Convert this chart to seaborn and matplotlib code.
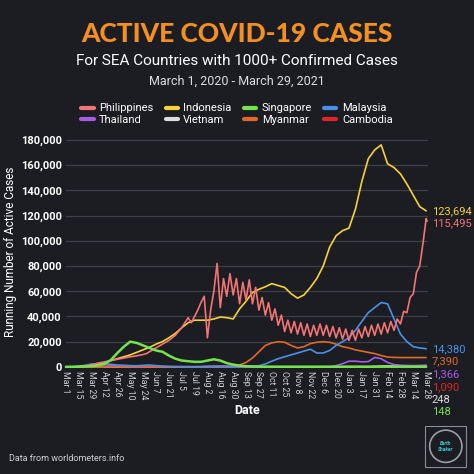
import pandas as pd
import matplotlib
matplotlib.use("Agg")
import matplotlib.pyplot as plt
import seaborn as sns
from matplotlib.lines import Line2D
from matplotlib.patches import Rectangle, Circle

# weekly values (thousands of active cases), Mar 1 2020 .. Mar 28 2021
indonesia = [0, 0.005, 0.1, 0.5, 1.1, 2.0, 3.3, 5.0, 6.5, 8.0, 9.5, 11.5, 13.5, 15.5,
             18.0, 20.0, 23.0, 26.5, 31.0, 35.0, 37.0, 37.0, 37.0, 38.0, 39.5, 39.0, 38.0,
             46.0, 52.0, 59.0, 61.5, 63.5, 66.0, 64.5, 63.0, 58.0, 54.5, 57.0, 63.0, 70.0,
             80.0, 95.0, 104.0, 108.0, 110.0, 125.0, 147.0, 165.0, 172.0, 176.0, 161.0,
             158.0, 153.0, 145.0, 136.0, 127.0, 123.694]
singapore = [0.05, 0.08, 0.15, 0.3, 0.6, 1.1, 2.3, 5.5, 11.0, 16.0, 20.0, 19.0, 17.0, 15.0,
             13.0, 12.0, 9.0, 6.5, 5.0, 4.5, 4.0, 4.0, 5.0, 6.0, 5.0, 3.0, 1.8, 1.0, 0.5,
             0.3, 0.2, 0.15, 0.12, 0.1, 0.1, 0.1, 0.1, 0.1, 0.1, 0.1, 0.1, 0.1, 0.1, 0.12,
             0.15, 0.15, 0.15, 0.15, 0.15, 0.15, 0.15, 0.15, 0.15, 0.15, 0.15, 0.15, 0.148]
malaysia = [0.02, 0.1, 0.5, 1.3, 2.2, 2.7, 2.6, 2.0, 1.5, 1.3, 1.0, 0.9, 1.2, 1.5, 1.0,
            0.7, 0.4, 0.3, 0.2, 0.2, 0.15, 0.15, 0.2, 0.2, 0.2, 0.2, 0.2, 0.3, 0.4, 0.6,
            0.9, 2.3, 4.5, 6.5, 8.0, 9.5, 11.0, 12.5, 14.0, 11.0, 11.0, 13.0, 17.0, 20.0,
            23.0, 29.0, 36.0, 43.0, 47.0, 51.0, 50.0, 38.0, 26.0, 20.0, 16.0, 15.0, 14.38]
thailand = [0.02, 0.05, 0.1, 0.6, 1.3, 1.8, 1.8, 1.3, 0.6, 0.3, 0.15, 0.1, 0.1, 0.1, 0.1,
            0.1, 0.1, 0.1, 0.1, 0.1, 0.1, 0.1, 0.1, 0.1, 0.1, 0.1, 0.1, 0.1, 0.1, 0.1,
            0.1, 0.1, 0.1, 0.1, 0.1, 0.1, 0.1, 0.1, 0.1, 0.1, 0.1, 0.15, 1.0, 2.5, 4.5,
            4.5, 4.0, 4.2, 7.5, 6.5, 3.5, 1.8, 1.3, 1.1, 1.0, 1.1, 1.366]
vietnam = [0.01, 0.02, 0.05, 0.1, 0.15, 0.2, 0.15, 0.1, 0.08, 0.07, 0.06, 0.06, 0.06,
           0.06, 0.05, 0.05, 0.05, 0.05, 0.05, 0.05, 0.05, 0.1, 0.3, 0.35, 0.4, 0.35, 0.3,
           0.25, 0.2, 0.15, 0.12, 0.1, 0.1, 0.1, 0.1, 0.1, 0.1, 0.1, 0.1, 0.1, 0.1, 0.1,
           0.1, 0.1, 0.1, 0.1, 0.1, 0.12, 0.3, 0.6, 0.7, 0.6, 0.5, 0.4, 0.3, 0.25, 0.248]
myanmar = [0, 0, 0, 0.01, 0.05, 0.1, 0.2, 0.15, 0.1, 0.1, 0.05, 0.05, 0.05, 0.05, 0.05,
           0.05, 0.05, 0.05, 0.05, 0.05, 0.05, 0.05, 0.05, 0.05, 0.05, 0.1, 0.5, 1.5, 3.5,
           7.0, 12.0, 17.0, 19.0, 20.0, 19.5, 17.0, 15.0, 16.0, 18.5, 19.5, 20.0, 19.5,
           18.0, 16.0, 15.0, 13.5, 12.5, 11.5, 10.5, 9.0, 7.8, 7.5, 7.4, 7.4, 7.4, 7.4, 7.39]
cambodia = [0, 0, 0.01, 0.05, 0.1, 0.1, 0.05, 0.03, 0.02, 0.01, 0.01, 0.01, 0.02, 0.02,
            0.03, 0.03, 0.03, 0.04, 0.04, 0.05, 0.05, 0.05, 0.05, 0.05, 0.05, 0.05, 0.05,
            0.05, 0.05, 0.05, 0.05, 0.05, 0.05, 0.05, 0.05, 0.05, 0.05, 0.05, 0.05, 0.05,
            0.05, 0.05, 0.05, 0.05, 0.05, 0.05, 0.05, 0.05, 0.05, 0.05, 0.05, 0.1, 0.3,
            0.5, 0.7, 0.9, 1.09]

# Philippines, twice a week (shows the weekly saw-tooth), plus Mar 29 2021
philippines = [0, 0, 0.01, 0.1, 0.2, 0.5, 0.8, 1.2, 1.8, 2.2, 3.0, 3.5, 4.0, 4.5, 5.0,
               5.5, 6.0, 6.5, 7.0, 7.5, 8.0, 8.3, 8.8, 9.3, 9.8, 10.5, 12.0, 13.5, 15.0,
               16.5, 18.0, 19.5, 21.0, 23.0, 25.0, 28.0, 31.0, 35.0, 39.0, 35.0, 40.0,
               45.0, 51.0, 56.0, 23.0, 45.0, 60.0, 82.0, 47.0, 70.0, 56.0, 74.0, 57.0,
               70.0, 50.0, 67.0, 53.0, 69.0, 50.0, 63.0, 45.0, 55.0, 41.0, 51.0, 37.0,
               46.0, 33.0, 41.0, 28.0, 37.0, 27.0, 36.0, 26.0, 35.0, 25.0, 34.0, 24.0,
               33.0, 25.0, 34.0, 25.0, 33.0, 24.0, 32.0, 23.0, 31.0, 22.0, 30.0, 21.0,
               29.0, 21.0, 30.0, 23.0, 32.0, 24.0, 33.0, 25.0, 34.0, 26.0, 35.0, 27.0,
               36.0, 29.0, 38.0, 34.0, 44.0, 43.0, 55.0, 58.0, 75.0, 80.0, 98.0, 117.6,
               115.495]

countries = ["Philippines", "Indonesia", "Singapore", "Malaysia",
             "Thailand", "Vietnam", "Myanmar", "Cambodia"]
colors = ["#f27474", "#f6d13a", "#74e44c", "#4a90e6",
          "#a85ce6", "#dcdcdc", "#e0692a", "#e02626"]
final_labels = ["115,495", "123,694", "148", "14,380", "1,366", "248", "7,390", "1,090"]

weeks = pd.date_range("2020-03-01", "2021-03-28", freq="7D")
half_weeks = pd.date_range("2020-03-01", periods=113, freq="84h").append(
    pd.DatetimeIndex(["2021-03-29"]))

series = {"Indonesia": indonesia, "Singapore": singapore, "Malaysia": malaysia,
          "Thailand": thailand, "Vietnam": vietnam, "Myanmar": myanmar,
          "Cambodia": cambodia}
frames = [pd.DataFrame({"date": weeks, "cases": [v * 1000 for v in vals], "country": c})
          for c, vals in series.items()]
frames.append(pd.DataFrame({"date": half_weeks, "cases": [v * 1000 for v in philippines],
                            "country": "Philippines"}))
df = pd.concat(frames, ignore_index=True)

bg = "#1b1d23"
sns.set_style("dark")
plt.rcParams["font.family"] = ["Roboto", "DejaVu Sans"]

fig = plt.figure(figsize=(4.74, 4.74), dpi=100, facecolor=bg)
ax = fig.add_axes([0.139, 0.226, 0.764, 0.487])
ax.set_facecolor(bg)

pal = dict(zip(countries, colors))
draw_order = ["Cambodia", "Vietnam", "Thailand", "Myanmar", "Malaysia",
              "Indonesia", "Philippines", "Singapore"]
for c in draw_order:
    sub = df[df["country"] == c]
    sns.lineplot(data=sub, x="date", y="cases", color=pal[c], ax=ax, estimator=None,
                 lw=1.8 if c == "Singapore" else 1.2, clip_on=False, legend=False)

ax.set_ylim(0, 183000)
ax.set_xlim(pd.Timestamp("2020-03-01"), pd.Timestamp("2021-03-30"))
yt = list(range(0, 180001, 20000))
ax.set_yticks(yt)
ax.set_yticklabels([f"{v:,}" for v in yt], color="white", fontsize=8, fontweight="bold")
xt = pd.date_range("2020-03-01", "2021-03-28", freq="14D")
ax.set_xticks(xt)
ax.set_xticklabels([f"{d:%b} {d.day}" for d in xt], rotation=270, color="#cfcfcf",
                   fontsize=6.3, va="top", ha="center")
ax.tick_params(length=0, pad=3)
ax.grid(axis="y", color="#3c3f46", lw=0.9)
ax.grid(axis="x", visible=False)
for s in ax.spines.values():
    s.set_visible(False)
ax.set_xlabel("Date", color="white", fontsize=9, fontweight="bold", labelpad=3)
ax.set_ylabel("Running Number of Active Cases", color="white", fontsize=8.5, labelpad=3)

# end-of-line labels, pushed apart so they do not overlap
finals = [(vals[-1] * 1000, c, lab) for vals, c, lab in zip(
    [philippines, indonesia, singapore, malaysia, thailand, vietnam, myanmar, cambodia],
    countries, final_labels)]
finals.sort(key=lambda t: -t[0])
gap = 10100
prev = None
x_lab = pd.Timestamp("2021-04-03")
for v, c, lab in finals:
    y = v if prev is None else min(v, prev - gap)
    prev = y
    ax.text(x_lab, y, lab, color=pal[c], fontsize=8, va="center", ha="left",
            clip_on=False)

fig.text(0.5, 0.928, "ACTIVE COVID-19 CASES", color="#f5901e", fontsize=19,
         fontweight="black", ha="center", va="center", family=["Lato", "DejaVu Sans"])
fig.text(0.5, 0.872, "For SEA Countries with 1000+ Confirmed Cases", color="white",
         fontsize=11, ha="center", va="center")
fig.text(0.5, 0.829, "March 1, 2020 - March 29, 2021", color="#dddddd", fontsize=9,
         ha="center", va="center")

handles = [Line2D([], [], color=pal[c], lw=3) for c in countries]
order = [0, 4, 1, 5, 2, 6, 3, 7]
fig.legend([handles[i] for i in order], [countries[i] for i in order], ncol=4,
           loc="center", bbox_to_anchor=(0.5, 0.759), frameon=False, fontsize=8,
           labelcolor="white", handlelength=1.1, handletextpad=0.5, columnspacing=1.1,
           labelspacing=0.15)

fig.text(0.019, 0.032, "Data from worldometers.info", color="#d0d0d0", fontsize=6.5,
         ha="left", va="center")

# small logo box
lx, ly, lw_ = 0.897, 0.015, 0.087
fig.add_artist(Rectangle((lx, ly), lw_, lw_, transform=fig.transFigure, fill=False,
                         ec="#8a8d94", lw=0.8))
fig.add_artist(Circle((lx + lw_ / 2, ly + lw_ / 2), 0.034, transform=fig.transFigure,
                      fill=False, ec="#9a9da4", lw=1.2))
fig.text(lx + lw_ / 2, ly + lw_ / 2, "Earth\nShaker", color="#3fc7c7", fontsize=3.6,
         ha="center", va="center", style="italic", fontweight="bold")

fig.savefig("out.png", dpi=100, facecolor=bg)
